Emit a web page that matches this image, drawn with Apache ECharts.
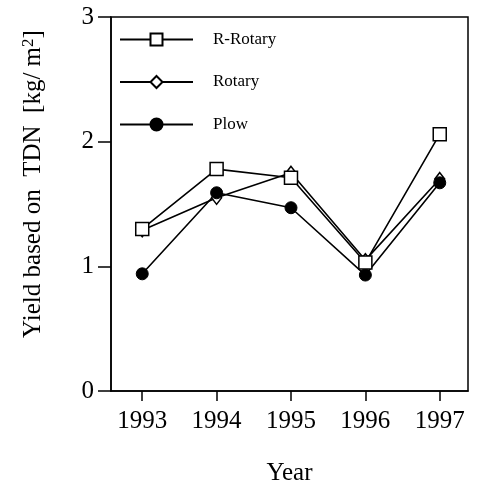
<!DOCTYPE html>
<html lang="en">
<head>
    <meta charset="UTF-8">
    <title>Yield based on TDN</title>
    <script src="https://cdn.jsdelivr.net/npm/echarts@6/dist/echarts.min.js"></script>
    <style>
        body { margin: 0; background: #fff; }
    </style>
</head>
<body>
<div id="main" style="width: 478px;height:486px;"></div>

<script type="text/javascript">
    // data
    var years = [1993, 1994, 1995, 1996, 1997];
    var rRotary = [1.30, 1.78, 1.71, 1.03, 2.06];
    var rotary = [1.29, 1.55, 1.75, 1.05, 1.70];
    var plow = [0.94, 1.59, 1.47, 0.93, 1.67];
    var yTicks = [0, 1, 2, 3];

    function pairs(vals) {
        var out = [];
        for (var i = 0; i < years.length; i++) {
            out.push([years[i], vals[i]]);
        }
        return out;
    }

    var serif = '"Liberation Serif", "DejaVu Serif", serif';

    var myChart = echarts.init(document.getElementById('main'));
    myChart.setOption({
        animation: false,
        backgroundColor: '#fff',
        grid: {
            left: 111,
            top: 17,
            right: 10,
            bottom: 95,
            outerBoundsMode: 'none',
            show: true,
            borderColor: '#000',
            borderWidth: 1.5
        },
        legend: {
            orient: 'vertical',
            left: 119,
            top: 31,
            padding: 0,
            itemWidth: 73,
            itemHeight: 15,
            itemGap: 25.5,
            textStyle: {
                fontFamily: serif,
                fontSize: 17,
                color: '#000',
                padding: [0, 0, 0, 15]
            },
            data: ['R-Rotary', 'Rotary', 'Plow']
        },
        xAxis: {
            type: 'value',
            min: 1992.58,
            max: 1997.38,
            name: 'Year',
            nameLocation: 'middle',
            nameGap: 70,
            nameTextStyle: { fontFamily: serif, fontSize: 25, color: '#000' },
            splitLine: { show: false },
            axisLine: { lineStyle: { color: '#000', width: 1.5 } },
            axisTick: {
                show: true,
                length: 10,
                customValues: years,
                lineStyle: { color: '#000', width: 1.5 }
            },
            axisLabel: {
                customValues: years,
                margin: 18,
                fontFamily: serif,
                fontSize: 25,
                color: '#000',
                formatter: function (v) { return String(v); }
            }
        },
        yAxis: {
            type: 'value',
            min: 0,
            max: 3,
            interval: 1,
            name: '{t|Yield based on  TDN  [kg/ m}{s|2}{t|]}',
            nameLocation: 'middle',
            nameGap: 64,
            nameTextStyle: {
                fontFamily: serif,
                color: '#000',
                padding: [0, 0, 0, 40],
                rich: {
                    t: { fontFamily: serif, fontSize: 25, color: '#000' },
                    s: { fontFamily: serif, fontSize: 17, color: '#000', verticalAlign: 'top', padding: [0, 0, 10, 0] }
                }
            },
            splitLine: { show: false },
            axisLine: { show: true, lineStyle: { color: '#000', width: 1.5 } },
            axisTick: { show: true, length: 13, lineStyle: { color: '#000', width: 1.5 } },
            axisLabel: {
                margin: 17,
                fontFamily: serif,
                fontSize: 25,
                color: '#000',
                customValues: yTicks
            }
        },
        series: [
            {
                name: 'R-Rotary',
                type: 'line',
                data: pairs(rRotary),
                symbol: 'rect',
                symbolSize: 13,
                itemStyle: { color: '#fff', borderColor: '#000', borderWidth: 1.5 },
                lineStyle: { color: '#000', width: 1.6 },
                z: 3
            },
            {
                name: 'Rotary',
                type: 'line',
                data: pairs(rotary),
                symbol: 'diamond',
                symbolSize: [10, 13],
                itemStyle: { color: '#fff', borderColor: '#000', borderWidth: 1.5 },
                lineStyle: { color: '#000', width: 1.6 },
                z: 2
            },
            {
                name: 'Plow',
                type: 'line',
                data: pairs(plow),
                symbol: 'circle',
                symbolSize: 12,
                itemStyle: { color: '#000', borderColor: '#000', borderWidth: 1 },
                lineStyle: { color: '#000', width: 1.6 },
                z: 2
            }
        ]
    });
</script>
</body>
</html>
